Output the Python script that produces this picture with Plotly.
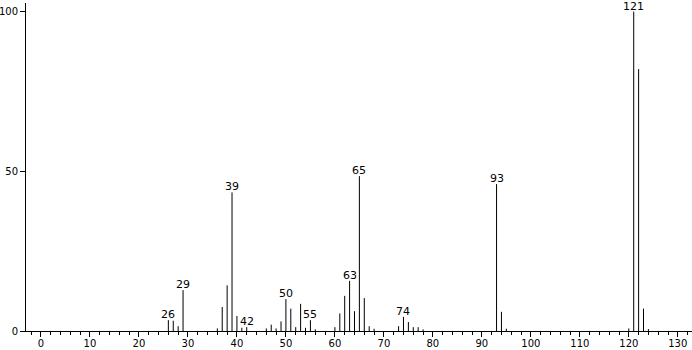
import plotly.graph_objects as go

mz = [26, 27, 28, 29, 36, 37, 38, 39, 40, 41, 42, 46, 47, 48, 49, 50, 51, 52, 53, 54, 55, 56,
      60, 61, 62, 63, 64, 65, 66, 67, 68, 73, 74, 75, 76, 77, 78, 93, 94, 95, 120, 121, 122, 123, 124]
intensity = [3.4, 3.2, 1.5, 12.8, 0.8, 7.5, 14.3, 43.4, 4.7, 1.0, 1.2, 0.8, 2.0, 0.8, 3.0, 10.0, 7.0, 1.2, 8.5, 1.0, 3.4, 0.5,
             1.2, 5.5, 11.0, 15.7, 6.2, 48.5, 10.3, 1.5, 0.7, 1.5, 4.4, 2.8, 1.2, 1.2, 0.5, 46.0, 6.0, 0.7, 0.8, 100.0, 82.0, 7.0, 0.6]
labeled = [26, 29, 39, 42, 50, 55, 63, 65, 74, 93, 121]

xs, ys = [], []
for m, v in zip(mz, intensity):
    xs += [m, m, None]
    ys += [0, v, None]

fig = go.Figure()
fig.add_trace(go.Scatter(x=xs, y=ys, mode="lines", line=dict(color="black", width=1),
                         hoverinfo="skip", showlegend=False))

inten = dict(zip(mz, intensity))
for m in labeled:
    fig.add_annotation(x=m, y=inten[m], text=str(m), showarrow=False, yanchor="bottom",
                       yshift=-2, borderpad=0, font=dict(family="DejaVu Sans", size=11, color="black"))

tick_font = dict(family="DejaVu Sans", size=10, color="black")
fig.update_layout(
    width=692, height=350,
    margin=dict(l=26, r=0, t=3, b=19, autoexpand=False),
    paper_bgcolor="white", plot_bgcolor="white",
    showlegend=False,
    font=dict(family="DejaVu Sans", size=11, color="black"),
    xaxis=dict(range=[-3.06, 132.9], tickvals=list(range(0, 131, 10)), ticks="outside", ticklen=5,
               tickcolor="black", tickwidth=1, showline=True, linecolor="black", linewidth=1,
               showgrid=False, zeroline=False, ticklabelstandoff=-2, automargin=False, tickfont=tick_font,
               minor=dict(dtick=2, tick0=0, ticks="outside", ticklen=3, tickcolor="black", showgrid=False)),
    yaxis=dict(range=[0, 102.7], tickvals=[0, 50, 100], ticks="outside", ticklen=5, tickcolor="black",
               tickwidth=1, showline=True, linecolor="black", linewidth=1, showgrid=False, zeroline=False,
               automargin=False, ticklabelstandoff=0, tickfont=tick_font),
)
fig.write_html("out.html")
